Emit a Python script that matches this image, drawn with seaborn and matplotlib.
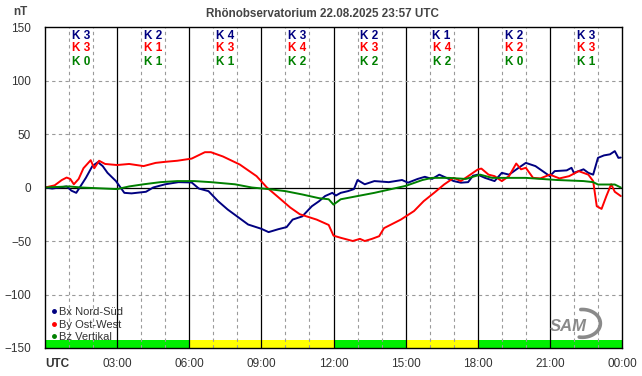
import matplotlib
matplotlib.use("Agg")
import matplotlib.pyplot as plt
from matplotlib.lines import Line2D
from matplotlib.patches import Rectangle
import numpy as np
import pandas as pd
import seaborn as sns

# (hour UTC, nT)
bx = [(0, 0), (0.3, -1), (0.6, 0), (0.9, 1), (1.1, -3), (1.3, -5), (1.5, 2), (1.7, 9),
      (1.97, 20), (2.2, 23.7), (2.4, 20), (2.6, 13.7), (2.95, 6), (3.3, -5), (3.6, -5.5),
      (4.2, -4), (4.5, 0), (5.0, 3), (5.55, 5), (6.1, 4.7), (6.4, -1), (6.8, -3.4),
      (7.2, -12.8), (7.6, -20.6), (8.05, -28), (8.45, -34.6), (9.0, -38.6), (9.3, -41.7),
      (9.7, -39), (10.05, -37), (10.3, -30), (10.7, -27), (11.1, -17.5), (11.4, -12.8),
      (11.65, -8), (11.95, -5), (12.1, -7.5), (12.3, -5), (12.6, -3.4), (12.85, -1.5),
      (13.0, 7), (13.3, 3), (13.7, 6), (14.3, 5), (14.85, 7), (15.1, 4.5), (15.5, 8),
      (15.8, 10), (16.1, 8), (16.4, 12), (16.8, 8), (17.0, 6), (17.3, 4.5), (17.6, 5),
      (17.8, 11), (18.0, 12), (18.3, 9), (18.7, 6), (19.0, 13.7), (19.3, 12), (19.7, 18.4),
      (20.0, 23), (20.4, 20), (20.7, 15.3), (21.0, 10.6), (21.2, 15.3), (21.7, 16),
      (21.9, 18.4), (22.0, 13.7), (22.4, 17), (22.6, 13.7), (22.8, 12), (23.0, 27.7),
      (23.25, 30), (23.5, 31), (23.7, 34), (23.85, 27.7), (23.95, 28)]
by = [(0, 0), (0.4, 2), (0.7, 7), (0.9, 9.3), (1.05, 8), (1.2, 3), (1.4, 8), (1.6, 18),
      (1.9, 25.5), (2.05, 18), (2.25, 25), (2.5, 22), (3.0, 21), (3.5, 22), (4.1, 20),
      (4.6, 23), (5.0, 24), (5.5, 25), (6.1, 27), (6.65, 33), (6.9, 33), (7.4, 29),
      (8.1, 21.5), (8.8, 10.6), (9.23, 0), (9.7, -9), (10.2, -18.7), (10.6, -25),
      (11.3, -30), (11.8, -35), (12.0, -45), (12.3, -47), (12.8, -50), (13.1, -48),
      (13.3, -50), (13.6, -48), (13.9, -45.5), (14.1, -38), (14.8, -30), (15.35, -22),
      (15.75, -12.8), (16.2, -4.7), (16.6, 2.8), (17.0, 9), (17.3, 6), (17.6, 10.6),
      (18.0, 16.8), (18.15, 17.7), (18.45, 12), (18.7, 10.6), (19.0, 6), (19.3, 10.6),
      (19.6, 22.4), (19.8, 17), (20.0, 18.4), (20.3, 9), (20.6, 8.5), (21.0, 12),
      (21.4, 8.5), (21.8, 10.6), (22.2, 15.3), (22.6, 12), (22.8, 6), (22.95, -17.5),
      (23.15, -20), (23.35, -8), (23.55, 3), (23.7, -4), (23.95, -8)]
bz = [(0, 0), (0.5, 0.5), (1.0, 1), (1.5, 0), (2, -0.5), (3, -1.5), (3.5, 1), (4.1, 3),
      (4.8, 5), (5.5, 6), (6.2, 6), (6.9, 5), (7.9, 3), (8.6, 0), (9.3, -1.5), (10.0, -3.4),
      (10.7, -6.5), (11.4, -10), (11.8, -11), (12.0, -16), (12.3, -11), (13.0, -8),
      (13.7, -5), (14.4, -1.5), (15.0, 1.5), (15.7, 7), (16.1, 9), (16.8, 9), (17.5, 8),
      (18.1, 12), (18.6, 9), (20.0, 9), (21.3, 7), (22.4, 6), (22.8, 5), (23.0, 2.8),
      (23.7, 2.8), (23.95, 0)]

series_names = ["Bx Nord-Süd", "By Ost-West", "Bz Vertikal"]
colors = ["#000080", "#ff0000", "#008000"]

# K indices per 3-hour block (Bx, By, Bz)
k_bx = [3, 2, 4, 3, 2, 1, 2, 3]
k_by = [3, 1, 3, 4, 3, 4, 2, 3]
k_bz = [0, 1, 1, 2, 2, 2, 0, 1]

# activity band: (start hour, end hour, colour)
band = [(0, 6, "#00ee00"), (6, 12, "#ffff00"), (12, 15, "#00ee00"),
        (15, 18, "#ffff00"), (18, 24, "#00ee00")]

frames = []
for name, pts in [(series_names[0], bx), (series_names[2], bz), (series_names[1], by)]:
    d = pd.DataFrame(pts, columns=["hour", "nT"])
    d["series"] = name
    frames.append(d)
df = pd.concat(frames, ignore_index=True)

sns.set_style("white")
plt.rcParams["font.family"] = ["Liberation Sans", "DejaVu Sans"]

fig = plt.figure(figsize=(6.42, 3.76), dpi=100)
ax = fig.add_axes([45 / 642, 28 / 376, 577 / 642, 321 / 376])

# grid: dashed every hour, solid every 3 hours
for h in range(1, 24):
    if h % 3:
        ax.axvline(h, color="#9a9a9a", lw=0.8, ls=(0, (3, 3)), zorder=1)
    else:
        ax.axvline(h, color="black", lw=0.9, zorder=1)
for v in [-100, -50, 50, 100]:
    ax.axhline(v, color="#9a9a9a", lw=0.8, ls=(0, (3, 3)), zorder=1)
ax.axhline(0, color="black", lw=0.9, zorder=1)

for a, b, c in band:
    ax.add_patch(Rectangle((a, -150), b - a, 7.5, color=c, lw=0, zorder=0.5))

sns.lineplot(data=df, x="hour", y="nT", hue="series", palette=dict(zip(series_names, colors)),
             hue_order=series_names, estimator=None, sort=False, lw=1.4, legend=False,
             ax=ax, zorder=3)

# K labels
for i in range(8):
    xc = i * 3 + 1.5
    for val, yv, c in [(k_bx[i], 142, colors[0]), (k_by[i], 130, colors[1]), (k_bz[i], 117.5, colors[2])]:
        ax.text(xc, yv, f"K {val}", color=c, ha="center", va="center",
                fontsize=8.5, fontweight="bold", zorder=4)

ax.set_xlim(0, 24)
ax.set_ylim(-150, 150)
ax.set_xticks(range(25))
xlabels = []
for h in range(25):
    if h == 0:
        xlabels.append("UTC")
    elif h % 3 == 0:
        xlabels.append(f"{h % 24:02d}:00")
    else:
        xlabels.append("")
ax.set_xticklabels(xlabels)
utc = ax.get_xticklabels()[0]
utc.set_fontweight("bold")
utc.set_horizontalalignment("left")
ax.set_yticks(range(-150, 151, 50))
ax.tick_params(axis="x", direction="inout", length=7, width=0.9, colors="black",
               labelcolor="#333333", labelsize=8.5, pad=4)
ax.tick_params(axis="y", direction="out", length=4, width=0.9, colors="black",
               labelcolor="#333333", labelsize=8.5, pad=6)
ax.set_xlabel("")
ax.set_ylabel("")
for s in ax.spines.values():
    s.set_color("black")
    s.set_linewidth(1.0)
    s.set_zorder(5)

handles = [Line2D([], [], marker="o", ms=2.5, ls="", color=c) for c in colors]
ax.legend(handles, series_names, loc="lower left", bbox_to_anchor=(-0.008, -0.005),
          frameon=False, fontsize=8, handletextpad=0.0, labelspacing=0.2,
          borderpad=0.2, handlelength=1.0, labelcolor="#333333")

# SAM logo: italic text with a swoosh on its right
ax.text(21.75, -130, "SAM", fontsize=12, fontstyle="italic", color="#8a8a8a",
        ha="center", va="center", fontweight="bold", zorder=4)
ang = np.radians(np.linspace(-100, 95, 40))
ax.plot(22.35 + 0.75 * np.cos(ang), -127 + 13 * np.sin(ang), color="#8a8a8a",
        lw=2.6, solid_capstyle="round", zorder=4)

fig.text(322 / 642, 1 - 14 / 376, "Rhönobservatorium 22.08.2025 23:57 UTC",
         ha="center", va="center", fontsize=8.4, fontweight="bold", color="#444444")
fig.text(28 / 642, 1 - 12 / 376, "nT", ha="right", va="center", fontsize=8.5,
         fontweight="bold", color="#444444")

fig.savefig("out.png", dpi=100)
